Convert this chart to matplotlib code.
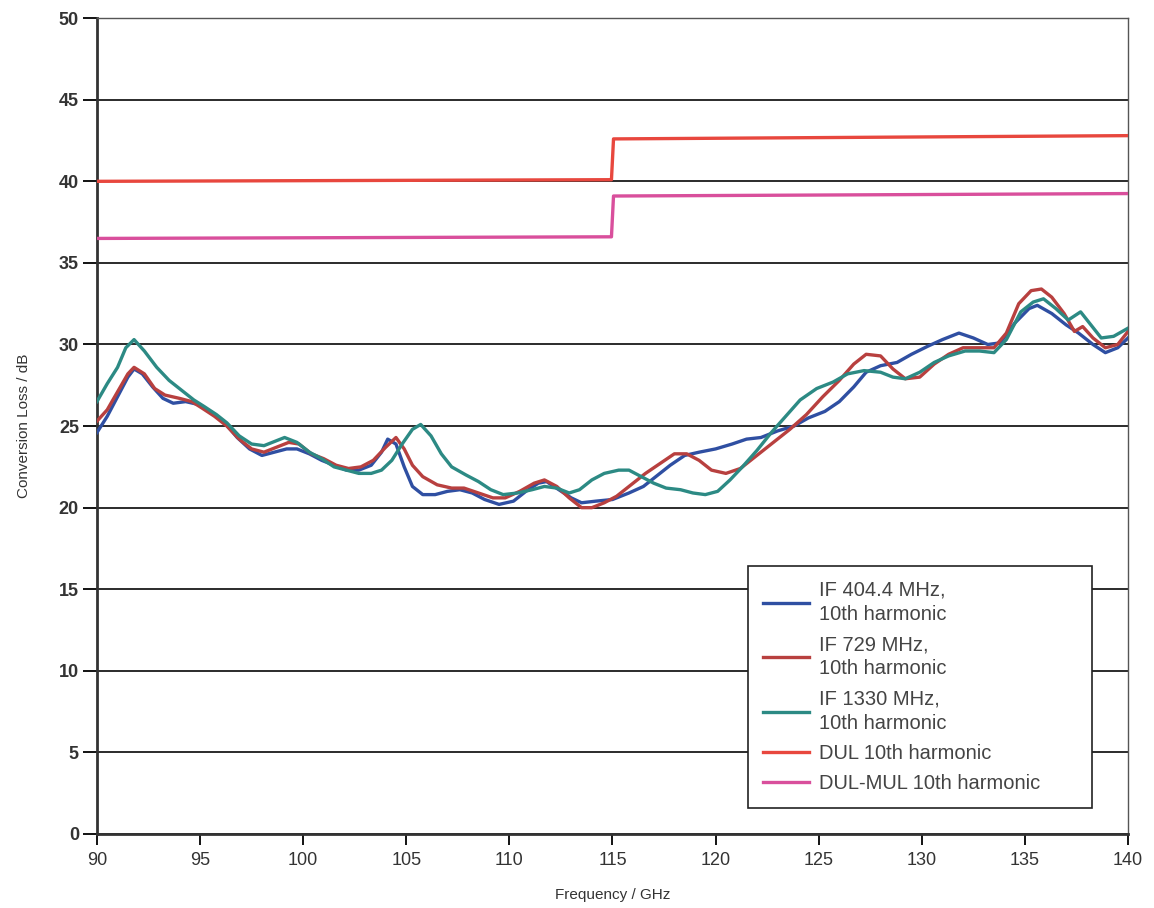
import matplotlib
matplotlib.use("Agg")
import matplotlib.pyplot as plt

freq_blue = [90.0, 90.5, 91.0, 91.5, 91.8, 92.2, 92.7, 93.2, 93.7, 94.3, 95.0, 95.6, 96.2, 96.8,
             97.4, 98.0, 98.6, 99.2, 99.7, 100.3, 100.9, 101.5, 102.1, 102.7, 103.3, 103.8, 104.1,
             104.5, 104.9, 105.3, 105.8, 106.4, 107.0, 107.6, 108.2, 108.8, 109.5, 110.2, 110.8,
             111.4, 111.8, 112.4, 113.0, 113.5, 114.2, 115.0, 115.8, 116.5, 117.2, 117.8, 118.5,
             119.2, 120.0, 120.8, 121.5, 122.2, 123.0, 123.8, 124.5, 125.3, 126.0, 126.7, 127.3,
             128.0, 128.8, 129.5, 130.3, 131.0, 131.8, 132.5, 133.2, 133.8, 134.5, 135.2, 135.6,
             136.3, 137.0, 137.6, 138.3, 138.9, 139.5, 140.0]
loss_blue = [24.6, 25.6, 26.8, 28.0, 28.5, 28.2, 27.4, 26.7, 26.4, 26.5, 26.3, 25.8, 25.2, 24.3,
             23.6, 23.2, 23.4, 23.6, 23.6, 23.3, 22.9, 22.6, 22.3, 22.3, 22.6, 23.4, 24.2,
             23.9, 22.5, 21.3, 20.8, 20.8, 21.0, 21.1, 20.9, 20.5, 20.2, 20.4, 21.0,
             21.5, 21.6, 21.1, 20.6, 20.3, 20.4, 20.5, 20.9, 21.3, 22.0, 22.6, 23.2,
             23.4, 23.6, 23.9, 24.2, 24.3, 24.7, 25.0, 25.5, 25.9, 26.5, 27.4, 28.3,
             28.7, 28.9, 29.4, 29.9, 30.3, 30.7, 30.4, 30.0, 30.1, 31.3, 32.2, 32.4,
             31.9, 31.2, 30.7, 30.0, 29.5, 29.8, 30.4]

freq_red = [90.0, 90.5, 91.0, 91.5, 91.8, 92.3, 92.8, 93.3, 94.0, 94.6, 95.1, 95.7, 96.3, 96.9,
            97.5, 98.1, 98.7, 99.3, 99.8, 100.4, 101.0, 101.6, 102.2, 102.8, 103.4, 104.0, 104.5,
            104.9, 105.3, 105.8, 106.5, 107.2, 107.8, 108.5, 109.2, 109.8, 110.5, 111.2, 111.7,
            112.3, 112.9, 113.5, 114.0, 114.6, 115.2, 115.9, 116.6, 117.3, 118.0, 118.6, 119.2,
            119.8, 120.5, 121.2, 122.0, 122.8, 123.6, 124.4, 125.2, 126.0, 126.7, 127.3, 128.0,
            128.6, 129.2, 129.9, 130.6, 131.3, 132.0, 132.8, 133.5, 134.1, 134.7, 135.3, 135.8,
            136.3, 136.9, 137.4, 137.8, 138.3, 138.9, 139.5, 140.0]
loss_red = [25.3, 26.0, 27.1, 28.2, 28.6, 28.2, 27.3, 26.9, 26.7, 26.5, 26.1, 25.6, 25.0, 24.2,
            23.6, 23.4, 23.7, 24.0, 23.9, 23.3, 23.0, 22.6, 22.4, 22.5, 22.9, 23.7, 24.3,
            23.6, 22.6, 21.9, 21.4, 21.2, 21.2, 20.9, 20.6, 20.6, 21.0, 21.5, 21.7,
            21.3, 20.6, 20.0, 20.0, 20.3, 20.7, 21.4, 22.1, 22.7, 23.3, 23.3, 22.9,
            22.3, 22.1, 22.4, 23.2, 24.0, 24.8, 25.7, 26.8, 27.8, 28.8, 29.4, 29.3,
            28.5, 27.9, 28.0, 28.8, 29.4, 29.8, 29.8, 29.8, 30.7, 32.5, 33.3, 33.4,
            32.9, 31.9, 30.8, 31.1, 30.4, 29.8, 30.0, 30.8]

freq_teal = [90.0, 90.5, 91.0, 91.4, 91.8, 92.3, 92.9, 93.5, 94.1, 94.7, 95.2, 95.8, 96.3, 96.9,
             97.5, 98.1, 98.7, 99.1, 99.7, 100.3, 100.9, 101.5, 102.1, 102.7, 103.3, 103.8, 104.3,
             104.8, 105.3, 105.7, 106.2, 106.7, 107.2, 107.9, 108.5, 109.1, 109.7, 110.4, 111.1,
             111.7, 112.3, 112.9, 113.4, 114.0, 114.6, 115.3, 115.8, 116.4, 117.0, 117.6, 118.3,
             118.9, 119.5, 120.1, 120.7, 121.3, 122.0, 122.7, 123.4, 124.1, 124.9, 125.7, 126.4,
             127.2, 128.0, 128.6, 129.2, 129.9, 130.6, 131.3, 132.1, 132.8, 133.5, 134.1, 134.8,
             135.4, 135.9, 136.5, 137.1, 137.7, 138.2, 138.7, 139.3, 140.0]
loss_teal = [26.5, 27.6, 28.6, 29.8, 30.3, 29.6, 28.6, 27.8, 27.2, 26.6, 26.2, 25.7, 25.2, 24.4,
             23.9, 23.8, 24.1, 24.3, 24.0, 23.4, 23.0, 22.5, 22.3, 22.1, 22.1, 22.3, 22.9,
             23.9, 24.8, 25.1, 24.4, 23.3, 22.5, 22.0, 21.6, 21.1, 20.8, 20.9, 21.1,
             21.3, 21.2, 20.9, 21.1, 21.7, 22.1, 22.3, 22.3, 21.9, 21.5, 21.2, 21.1,
             20.9, 20.8, 21.0, 21.7, 22.5, 23.5, 24.6, 25.6, 26.6, 27.3, 27.7, 28.2,
             28.4, 28.3, 28.0, 27.9, 28.3, 28.9, 29.3, 29.6, 29.6, 29.5, 30.3, 32.0,
             32.6, 32.8, 32.2, 31.5, 32.0, 31.2, 30.4, 30.5, 31.0]

freq_step = [90.0, 114.95, 115.05, 140.0]
loss_dul = [40.0, 40.1, 42.6, 42.8]
loss_dulmul = [36.5, 36.6, 39.1, 39.25]

labels = ["IF 404.4 MHz,\n10th harmonic", "IF 729 MHz,\n10th harmonic",
          "IF 1330 MHz,\n10th harmonic", "DUL 10th harmonic", "DUL-MUL 10th harmonic"]
colors = ["#2f4fa2", "#b8403f", "#2c8a84", "#e8473e", "#d94f9c"]


def main():
    plt.rcParams["font.family"] = ["Liberation Sans", "DejaVu Sans"]
    fig = plt.figure(figsize=(11.54, 9.08), dpi=100)
    ax = fig.add_axes([0.084, 0.0815, 0.8935, 0.8985])

    series = [(freq_blue, loss_blue), (freq_red, loss_red), (freq_teal, loss_teal),
              (freq_step, loss_dul), (freq_step, loss_dulmul)]
    for (x, y), c, lab in zip(series, colors, labels):
        ax.plot(x, y, color=c, lw=2.4, label=lab, zorder=3)

    ax.set_xlim(90, 140)
    ax.set_ylim(0, 50)
    ax.set_xticks(range(90, 141, 5))
    ax.set_yticks(range(0, 51, 5))
    ax.yaxis.grid(True, color="#1a1a1a", lw=1.3)
    ax.set_axisbelow(True)

    for s in ["left", "bottom"]:
        ax.spines[s].set_linewidth(2.0)
        ax.spines[s].set_color("#333333")
    for s in ["top", "right"]:
        ax.spines[s].set_linewidth(1.0)
        ax.spines[s].set_color("#555555")

    ax.tick_params(axis="y", length=10, width=1.3, labelsize=13, pad=3)
    ax.tick_params(axis="x", length=8, width=1.3, labelsize=13, pad=5)
    for t in ax.get_yticklabels():
        t.set_fontweight("bold")
        t.set_color("#333333")
    for t in ax.get_xticklabels():
        t.set_color("#333333")

    ax.set_xlabel("Frequency / GHz", fontsize=11, color="#333333", labelpad=14)
    ax.set_ylabel("Conversion Loss / dB", fontsize=11, color="#333333", labelpad=20)

    # legend box spans the reference's frame (x 748-1097 px, bottom 808 px)
    leg = ax.legend(loc="lower left", bbox_to_anchor=(0.6314, 0.0319, 0.3337, 0.2),
                    mode="expand", fontsize=14.5, frameon=True, fancybox=False,
                    handlelength=2.3, handletextpad=0.5, labelspacing=0.55,
                    borderpad=0.75, borderaxespad=0)
    leg.get_frame().set_edgecolor("#222222")
    leg.get_frame().set_linewidth(1.2)
    leg.get_frame().set_alpha(1)
    for t in leg.get_texts():
        t.set_color("#444444")
        t.set_linespacing(1.35)

    fig.savefig("out.png", dpi=100)


if __name__ == "__main__":
    main()
